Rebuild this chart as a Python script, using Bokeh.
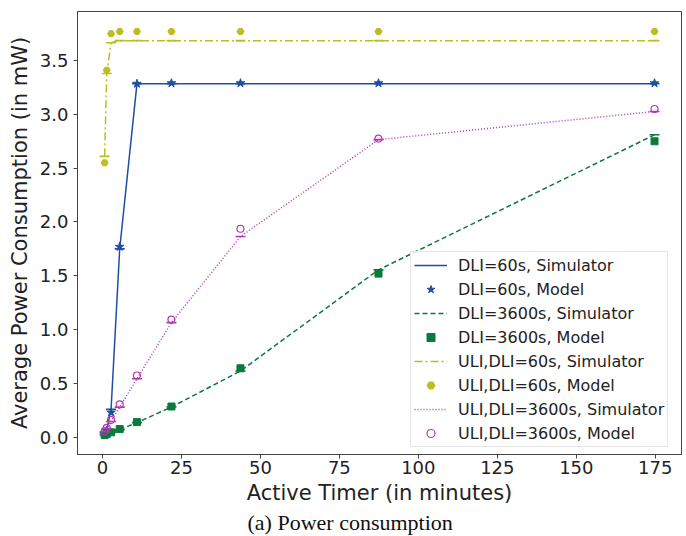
from bokeh.plotting import figure
from bokeh.models import Range1d, Legend, LegendItem, Title, FixedTicker, CustomJSTickFormatter
from bokeh.embed import file_html
from bokeh.resources import INLINE

# ---- data ----
active_timer = [0.683, 1.365, 2.731, 5.461, 10.923, 21.845, 43.691, 87.381, 174.763]

dli60_sim = [0.04, 0.07, 0.26, 1.75, 3.285, 3.285, 3.285, 3.285, 3.285]
dli60_model = [0.04, 0.06, 0.23, 1.77, 3.285, 3.29, 3.29, 3.29, 3.29]

dli3600_sim = [0.02, 0.03, 0.045, 0.07, 0.135, 0.28, 0.615, 1.555, 2.81]
dli3600_model = [0.02, 0.03, 0.045, 0.075, 0.14, 0.285, 0.64, 1.52, 2.75]

uli60_sim = [2.61, 3.38, 3.665, 3.685, 3.685, 3.685, 3.685, 3.685, 3.685]
uli60_model = [2.55, 3.41, 3.75, 3.77, 3.77, 3.77, 3.77, 3.77, 3.77]

uli3600_sim = [0.05, 0.08, 0.146, 0.279, 0.543, 1.065, 1.865, 2.765, 3.027]
uli3600_model = [0.053, 0.087, 0.16, 0.304, 0.573, 1.093, 1.937, 2.775, 3.05]

x_ticks = [0, 25, 50, 75, 100, 125, 150, 175]
y_ticks = [0.0, 0.5, 1.0, 1.5, 2.0, 2.5, 3.0, 3.5]

labels = ["DLI=60s, Simulator", "DLI=60s, Model",
          "DLI=3600s, Simulator", "DLI=3600s, Model",
          "ULI,DLI=60s, Simulator", "ULI,DLI=60s, Model",
          "ULI,DLI=3600s, Simulator", "ULI,DLI=3600s, Model"]

BLUE = "#1f4ea6"
GREEN = "#0a7a3c"
OLIVE = "#bcbd22"
MAGENTA = "#b03ab0"

FONT = "DejaVu Sans"

p = figure(frame_width=604, frame_height=443,
           min_border_left=77, min_border_top=11, min_border_right=2, min_border_bottom=78,
           x_range=Range1d(-7.9, 183.3), y_range=Range1d(-0.161, 3.956),
           output_backend="svg", toolbar_location=None)

p.xgrid.visible = False
p.ygrid.visible = False
p.outline_line_color = "#444444"
p.outline_line_width = 1
p.background_fill_color = "white"
p.border_fill_color = "white"

for ax in (p.xaxis[0], p.yaxis[0]):
    ax.major_tick_out = 4
    ax.major_tick_in = 0
    ax.minor_tick_out = 0
    ax.minor_tick_in = 0
    ax.axis_line_color = "#444444"
    ax.major_tick_line_color = "#444444"
    ax.major_label_text_font = FONT
    ax.major_label_text_font_size = "18px"
    ax.major_label_text_color = "#222222"
    ax.axis_label_text_font = FONT
    ax.axis_label_text_font_size = "21px"
    ax.axis_label_text_font_style = "normal"
    ax.axis_label_text_color = "#222222"

p.xaxis.ticker = FixedTicker(ticks=x_ticks)
p.yaxis.ticker = FixedTicker(ticks=y_ticks)
p.yaxis.formatter = CustomJSTickFormatter(code="return tick.toFixed(1);")
p.xaxis.axis_label = "Active Timer (in minutes)"
p.yaxis.axis_label = "Average Power Consumption (in mW)"
p.xaxis.major_label_standoff = 2
p.xaxis.axis_label_standoff = 4
p.yaxis.major_label_standoff = 5
p.yaxis.axis_label_standoff = 5

series = [
    (dli60_sim, dli60_model, BLUE, "solid", "star", 9, True),
    (dli3600_sim, dli3600_model, GREEN, "5 3", "square", 7, True),
    (uli60_sim, uli60_model, OLIVE, "8 3 2 3", "hex", 7, True),
    (uli3600_sim, uli3600_model, MAGENTA, "1 2", "circle", 7, False),
]

items = []
for i, (sim, model, color, dash, marker, msize, filled) in enumerate(series):
    r_line = p.line(active_timer, sim, line_color=color, line_width=1.5, line_dash=dash)
    p.scatter(active_timer, sim, marker="dash", size=10, line_color=color, line_width=1.6)
    if filled:
        r_pts = p.scatter(active_timer, model, marker=marker, size=msize,
                          fill_color=color, line_color=color, line_width=1)
    else:
        r_pts = p.scatter(active_timer, model, marker=marker, size=msize,
                          fill_color=None, line_color=color, line_width=1.2)
    items.append(LegendItem(label=labels[2 * i], renderers=[r_line]))
    items.append(LegendItem(label=labels[2 * i + 1], renderers=[r_pts]))

legend = Legend(items=items, location=(333, 7))
legend.label_text_font = FONT
legend.label_text_font_size = "16px"
legend.label_text_color = "#222222"
legend.label_height = 20
legend.glyph_height = 20
legend.glyph_width = 33
legend.spacing = 4
legend.padding = 3
legend.margin = 0
legend.label_standoff = 11
legend.border_line_color = "#cccccc"
legend.border_line_width = 1
legend.background_fill_color = "white"
legend.background_fill_alpha = 0.85
p.add_layout(legend, "center")

cap = Title(text="(a) Power consumption", align="left", offset=170,
            text_font="Liberation Serif", text_font_size="22px",
            text_font_style="normal", text_color="#111111", standoff=1)
p.add_layout(cap, "below")

open("out.html", "w").write(file_html(p, INLINE))
